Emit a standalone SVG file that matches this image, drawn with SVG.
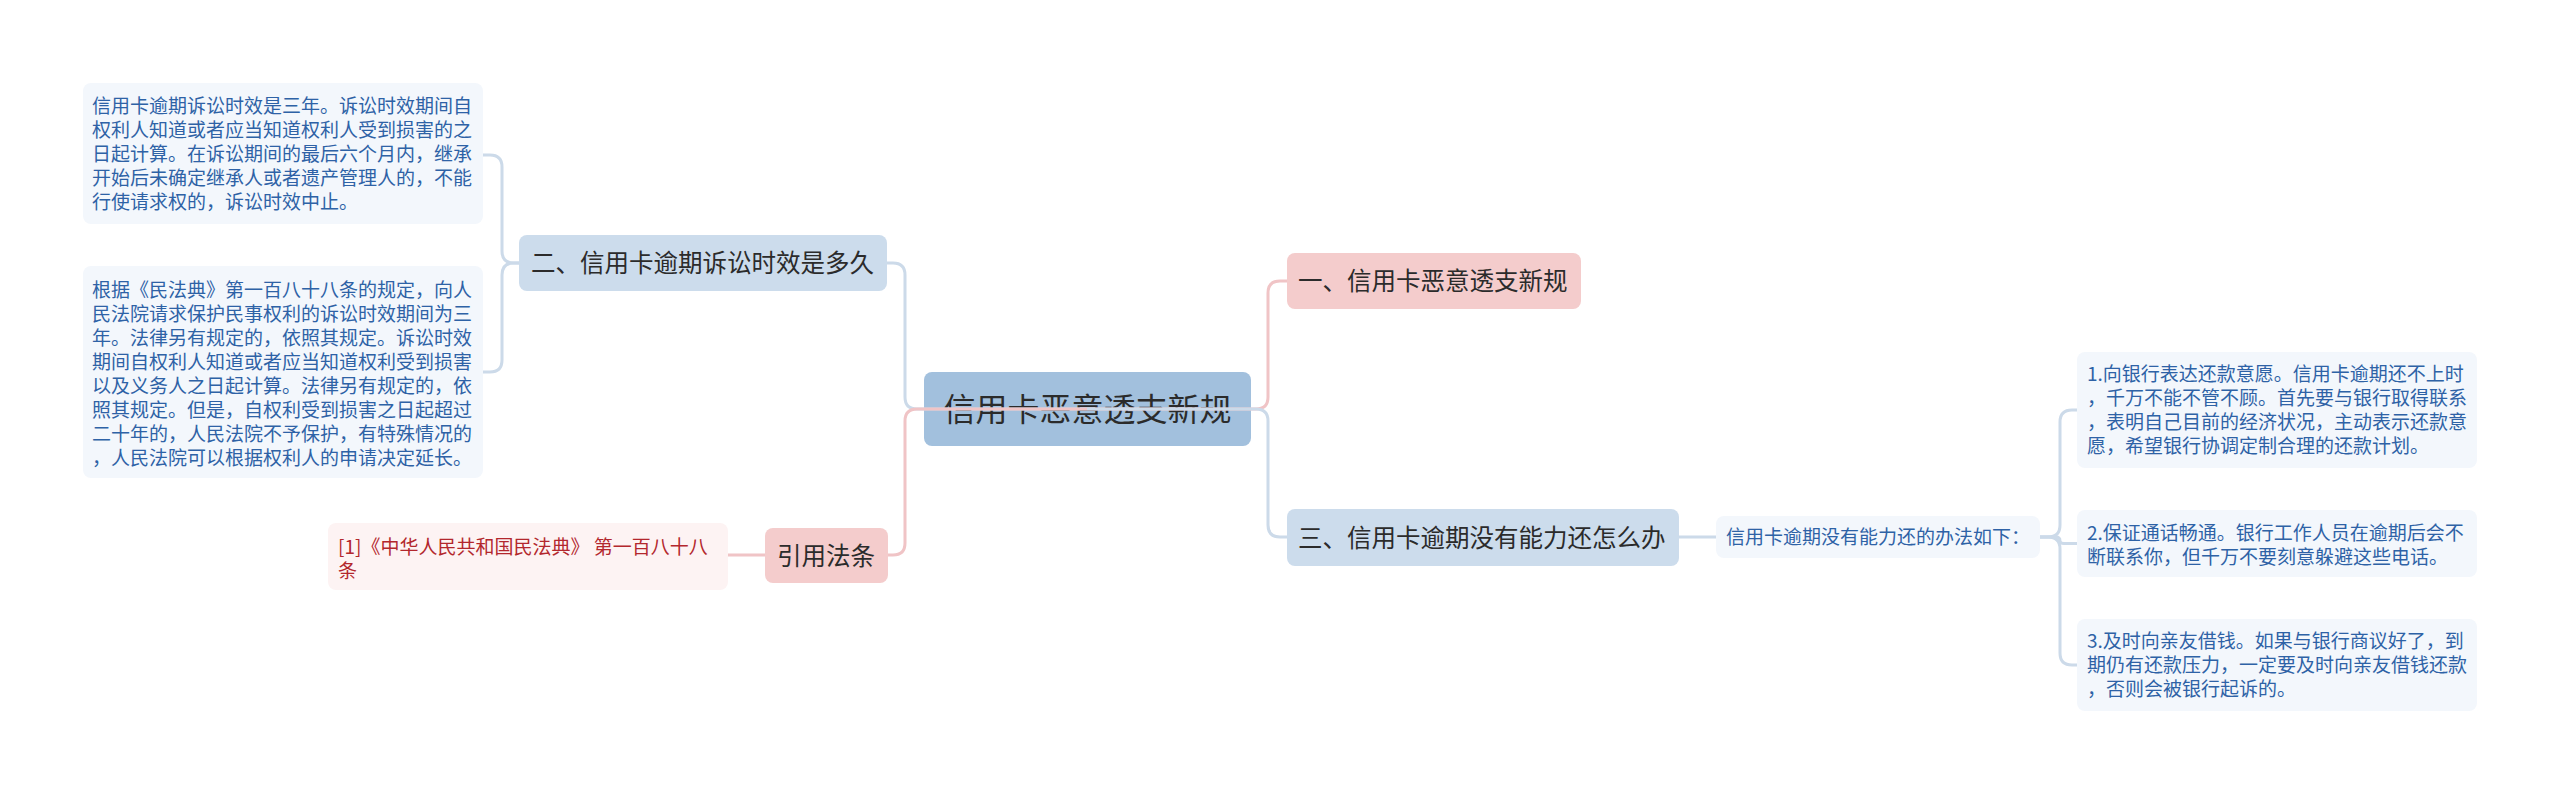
<svg xmlns="http://www.w3.org/2000/svg" width="2560" height="794" viewBox="0 0 2560 794">
<style>
text{font-family:"Noto Sans CJK SC","Noto Sans",sans-serif;}
.root{fill:#a2c0dd;}
.l1b{fill:#ccdcec;}
.l1p{fill:#f4cccc;}
.lfb{fill:#f3f7fc;}
.lfp{fill:#fdf3f3;}
.troot{font-size:32px;fill:#2b2b2b;text-anchor:middle;}
.t1{font-size:24.5px;fill:#2b2b2b;}
.tb{font-size:19px;fill:#2e62a6;}
.tp{font-size:19px;fill:#b3272d;}
.cb{fill:none;stroke:#ccdae9;stroke-width:3;stroke-linejoin:round;}
.cp{fill:none;stroke:#f0c4c6;stroke-width:3;stroke-linejoin:round;}
</style>
<rect width="2560" height="794" fill="#ffffff"/>
<g id="nodes">
<g id="root">
<rect class="root" x="924" y="372" width="327" height="74" rx="8"/>
<text class="troot" x="1087.5" y="421">信用卡恶意透支新规</text>
</g>
<g id="n1">
<rect class="l1p" x="1287" y="253" width="294" height="56" rx="8"/>
<text class="t1" x="1298" y="290.3">一、信用卡恶意透支新规</text>
</g>
<g id="n2">
<rect class="l1b" x="519" y="235" width="368" height="56" rx="8"/>
<text class="t1" x="531" y="272.3">二、信用卡逾期诉讼时效是多久</text>
</g>
<g id="n3">
<rect class="l1b" x="1287" y="509" width="392" height="57" rx="8"/>
<text class="t1" x="1298" y="546.8">三、信用卡逾期没有能力还怎么办</text>
</g>
<g id="n4">
<rect class="l1p" x="765" y="528" width="123" height="55" rx="8"/>
<text class="t1" x="777" y="564.8">引用法条</text>
</g>
<g id="n2a">
<rect class="lfb" x="83" y="83" width="400" height="141" rx="8"/>
<text class="tb"><tspan x="92" y="112.7">信用卡逾期诉讼时效是三年。诉讼时效期间自</tspan><tspan x="92" y="136.7">权利人知道或者应当知道权利人受到损害的之</tspan><tspan x="92" y="160.7">日起计算。在诉讼期间的最后六个月内，继承</tspan><tspan x="92" y="184.7">开始后未确定继承人或者遗产管理人的，不能</tspan><tspan x="92" y="208.7">行使请求权的，诉讼时效中止。</tspan></text>
</g>
<g id="n2b">
<rect class="lfb" x="83" y="266" width="400" height="212" rx="8"/>
<text class="tb"><tspan x="92" y="296.7">根据《民法典》第一百八十八条的规定，向人</tspan><tspan x="92" y="320.7">民法院请求保护民事权利的诉讼时效期间为三</tspan><tspan x="92" y="344.7">年。法律另有规定的，依照其规定。诉讼时效</tspan><tspan x="92" y="368.7">期间自权利人知道或者应当知道权利受到损害</tspan><tspan x="92" y="392.7">以及义务人之日起计算。法律另有规定的，依</tspan><tspan x="92" y="416.7">照其规定。但是，自权利受到损害之日起超过</tspan><tspan x="92" y="440.7">二十年的，人民法院不予保护，有特殊情况的</tspan><tspan x="92" y="464.7">，人民法院可以根据权利人的申请决定延长。</tspan></text>
</g>
<g id="n4a">
<rect class="lfp" x="328" y="523" width="400" height="67" rx="8"/>
<text class="tp"><tspan x="338" y="554">[1]《中华人民共和国民法典》 第一百八十八</tspan><tspan x="338" y="578">条</tspan></text>
</g>
<g id="n3a">
<rect class="lfb" x="1716" y="516" width="324" height="42" rx="8"/>
<text class="tb" x="1726" y="544.2">信用卡逾期没有能力还的办法如下：</text>
</g>
<g id="n3a1">
<rect class="lfb" x="2077" y="352" width="400" height="116" rx="8"/>
<text class="tb"><tspan x="2087" y="381.2">1.向银行表达还款意愿。信用卡逾期还不上时</tspan><tspan x="2087" y="405.2">，千万不能不管不顾。首先要与银行取得联系</tspan><tspan x="2087" y="429.2">，表明自己目前的经济状况，主动表示还款意</tspan><tspan x="2087" y="453.2">愿，希望银行协调定制合理的还款计划。</tspan></text>
</g>
<g id="n3a2">
<rect class="lfb" x="2077" y="510" width="400" height="67" rx="8"/>
<text class="tb"><tspan x="2087" y="539.7">2.保证通话畅通。银行工作人员在逾期后会不</tspan><tspan x="2087" y="563.7">断联系你，但千万不要刻意躲避这些电话。</tspan></text>
</g>
<g id="n3a3">
<rect class="lfb" x="2077" y="619" width="400" height="92" rx="8"/>
<text class="tb"><tspan x="2087" y="648.2">3.及时向亲友借钱。如果与银行商议好了，到</tspan><tspan x="2087" y="672.2">期仍有还款压力，一定要及时向亲友借钱还款</tspan><tspan x="2087" y="696.2">，否则会被银行起诉的。</tspan></text>
</g>
</g>
<g id="connectors">
<path class="cp" d="M1087,409 H1256 Q1268,409 1268,397 V293 Q1268,281 1280,281 H1287"/>
<path class="cb" d="M1087,409 H917 Q905,409 905,397 V275 Q905,263 893,263 H887"/>
<path class="cb" d="M1087,409 H1256 Q1268,409 1268,421 V525 Q1268,537 1280,537 H1287"/>
<path class="cp" d="M1087,409 H917 Q905,409 905,421 V543 Q905,555 893,555 H888"/>
<path class="cb" d="M519,263 H514 Q502,263 502,251 V167 Q502,155 490,155 H483"/>
<path class="cb" d="M519,263 H514 Q502,263 502,275 V360 Q502,372 490,372 H483"/>
<path class="cp" d="M765,555 H728"/>
<path class="cb" d="M1679,537 H1716"/>
<path class="cb" d="M2040,537 H2048 Q2060,537 2060,525 V422 Q2060,410 2072,410 H2077"/>
<path class="cb" d="M2040,537 H2056 Q2060,537 2060,541 Q2060,543.5 2064,543.5 H2077"/>
<path class="cb" d="M2040,537 H2048 Q2060,537 2060,549 V653 Q2060,665 2072,665 H2077"/>
</g>
</svg>
